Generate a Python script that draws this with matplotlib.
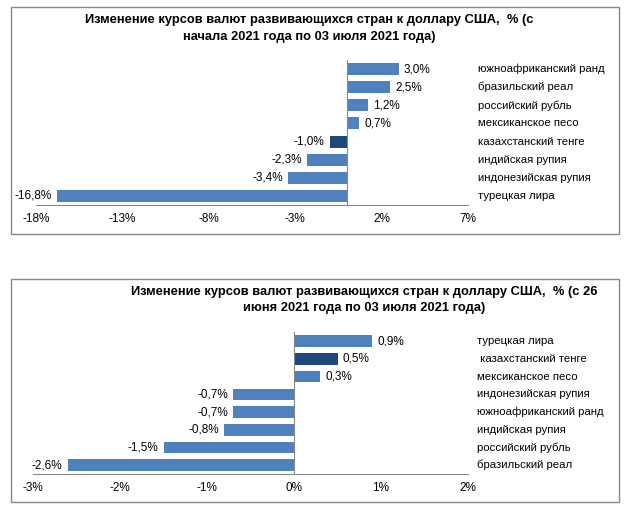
import matplotlib
matplotlib.use("Agg")
import matplotlib.pyplot as plt
from matplotlib.patches import Rectangle
from matplotlib.transforms import blended_transform_factory

plt.rcParams['font.family'] = ['Liberation Sans', 'DejaVu Sans']

# Top chart data
title1 = "Изменение курсов валют развивающихся стран к доллару США,  % (с\nначала 2021 года по 03 июля 2021 года)"
cats1 = ["южноафриканский ранд", "бразильский реал", "российский рубль", "мексиканское песо",
         "казахстанский тенге", "индийская рупия", "индонезийская рупия", "турецкая лира"]
vals1 = [3.0, 2.5, 1.2, 0.7, -1.0, -2.3, -3.4, -16.8]
ticks1 = [-18, -13, -8, -3, 2, 7]

# Bottom chart data
title2 = "Изменение курсов валют развивающихся стран к доллару США,  % (с 26\nиюня 2021 года по 03 июля 2021 года)"
cats2 = ["турецкая лира", " казахстанский тенге", "мексиканское песо", "индонезийская рупия",
         "южноафриканский ранд", "индийская рупия", "российский рубль", "бразильский реал"]
vals2 = [0.9, 0.5, 0.3, -0.7, -0.7, -0.8, -1.5, -2.6]
ticks2 = [-3, -2, -1, 0, 1, 2]

BLUE = "#4F81BD"
DARK = "#1F497D"

W, H = 627, 509
fig = plt.figure(figsize=(W / 100, H / 100), dpi=100)

def fx(px):
    return px / W

def fy(py):
    return 1 - py / H

# panel borders
for (x0, y0, x1, y1) in [(11, 7, 619, 234), (11, 279, 619, 502)]:
    fig.patches.append(Rectangle((fx(x0), fy(y1)), fx(x1) - fx(x0), fy(y0) - fy(y1),
                                 transform=fig.transFigure, fill=False,
                                 edgecolor="#888888", linewidth=1.0))

def fmt(v):
    return ("%.1f%%" % v).replace(".", ",")

def draw(ax_rect, cats, vals, ticks, lo, hi, title, tcx, ty, catx):
    ax = fig.add_axes(ax_rect)
    n = len(cats)
    pos = list(range(n))
    colors = [DARK if "казахстанский" in c else BLUE for c in cats]
    ax.barh(pos, vals, height=0.66, color=colors)
    ax.set_xlim(lo, hi)
    ax.set_ylim(n - 0.5, -0.5)
    ax.set_yticks([])
    ax.set_xticks(ticks)
    ax.set_xticklabels(["%d%%" % t for t in ticks], fontsize=8.5)
    ax.tick_params(axis="x", length=0, pad=6)
    for s in ["top", "right", "left"]:
        ax.spines[s].set_visible(False)
    ax.spines["bottom"].set_color("#888888")
    ax.spines["bottom"].set_linewidth(0.8)
    ax.axvline(0, color="#888888", linewidth=0.8)
    span = hi - lo
    for p, v in zip(pos, vals):
        off = span * 0.012
        if v >= 0:
            ax.text(v + off, p, fmt(v), ha="left", va="center", fontsize=8.5)
        else:
            ax.text(v - off, p, fmt(v), ha="right", va="center", fontsize=8.5)
    tr = blended_transform_factory(fig.transFigure, ax.transData)
    for p, c in zip(pos, cats):
        ax.text(fx(catx), p, c, transform=tr, ha="left", va="center", fontsize=8.2)
    fig.text(fx(tcx), fy(ty), title, ha="center", va="center", fontsize=9.3,
             fontweight="bold", linespacing=1.45)
    return ax

# top chart
draw([fx(36.3), fy(205), fx(467.8) - fx(36.3), 145 / H], cats1, vals1, ticks1, -18, 7,
     title1, 309, 28.5, 478)
# bottom chart
draw([fx(33), fy(474), fx(468) - fx(33), 141.6 / H], cats2, vals2, ticks2, -3, 2,
     title2, 364, 300, 477)

fig.savefig("out.png", dpi=100)
